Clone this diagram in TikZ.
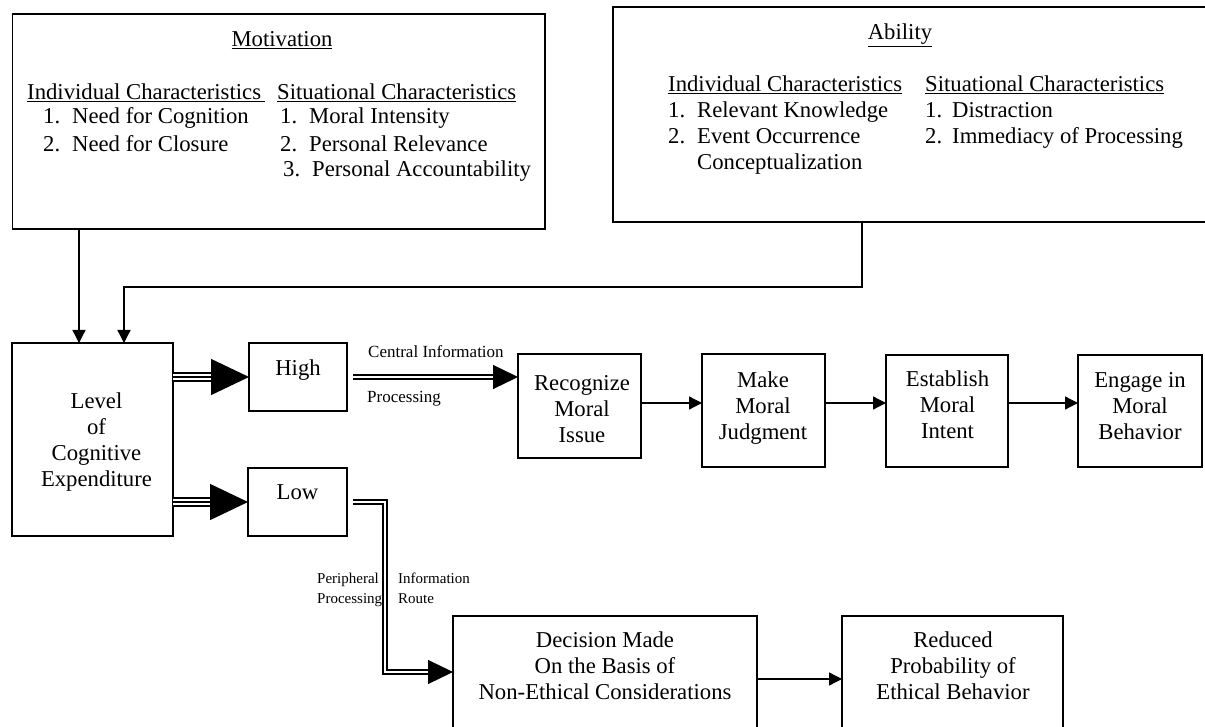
\documentclass[tikz,border=0pt]{standalone}
\usepackage{fontspec}
\setmainfont{Liberation Serif}
\usetikzlibrary{arrows.meta}
\newcommand{\mainsz}{\fontsize{22.7}{26}\selectfont}
\newcommand{\labsz}{\fontsize{17}{20}\selectfont}
\newcommand{\tinysz}{\fontsize{15}{20}\selectfont}
\newcommand{\itemnum}[1]{\makebox[29pt][l]{#1}}
\begin{document}
\begin{tikzpicture}[x=1pt,y=-1pt,
  box/.style={draw, line width=1.3pt, inner sep=0pt, outer sep=0pt},
  txt/.style={inner sep=0pt, align=center, font=\mainsz},
  lft/.style={inner sep=0pt, anchor=base west, font=\mainsz},
  lab/.style={inner sep=0pt, anchor=base west, font=\labsz},
  tlab/.style={inner sep=0pt, anchor=base west, font=\tinysz},
  arr/.style={line width=1.3pt, -{Triangle[length=13pt,width=13pt]}},
  dbltwo/.style={line width=1.2pt, double distance=2.8pt},
  dblthree/.style={line width=1.4pt, double distance=6.6pt},
  bigtip/.style={line width=1.4pt, -{Triangle[length=38pt,width=36pt]}},
  midtip/.style={line width=1.2pt, -{Triangle[length=25pt,width=24pt]}}
]
\fill[white] (0,0) rectangle (1205,727);
\useasboundingbox (0,0) rectangle (1205,727);

% boxes
\node[box, minimum width=532.5pt, minimum height=215pt] (mot) at (278.75,121.5) {};
\node[box, minimum width=607pt, minimum height=215pt] (abi) at (916.5,114.5) {};
\node[box, minimum width=161pt, minimum height=193pt] (lev) at (92.5,439.5) {};
\node[box, minimum width=98pt, minimum height=68pt] (high) at (298,377) {};
\node[box, minimum width=99pt, minimum height=68pt] (low) at (297.5,502) {};
\node[box, minimum width=123pt, minimum height=104pt] (rec) at (579.5,406) {};
\node[box, minimum width=123pt, minimum height=113pt] (mak) at (763.5,410.5) {};
\node[box, minimum width=122pt, minimum height=112pt] (est) at (947,411) {};
\node[box, minimum width=124pt, minimum height=112pt] (eng) at (1140,411) {};
\node[box, minimum width=304pt, minimum height=126pt] (dec) at (605,679) {};
\node[box, minimum width=221pt, minimum height=126pt] (red) at (952.5,679) {};

% Motivation texts
\node[txt, anchor=base] (motT) at (282,47) {\underline{Motivation}};
\node[lft] (m1) at (27,100) {\underline{Individual Characteristics\,}};
\node[lft] (m2) at (43,124) {\itemnum{1.}Need for Cognition};
\node[lft] (m3) at (43,152) {\itemnum{2.}Need for Closure};
\node[lft] (m4) at (277,100) {\underline{Situational Characteristics}};
\node[lft] (m5) at (280,124) {\itemnum{1.}Moral Intensity};
\node[lft] (m6) at (280,152) {\itemnum{2.}Personal Relevance};
\node[lft] (m7) at (283,177) {\itemnum{3.}Personal Accountability};

% Ability texts
\node[txt, anchor=base] (abT) at (900,40) {\underline{Ability}};
\node[lft] (a1) at (668,92) {\underline{Individual Characteristics}};
\node[lft] (a2) at (668,118) {\itemnum{1.}Relevant Knowledge};
\node[lft] (a3) at (668,144) {\itemnum{2.}Event Occurrence};
\node[lft] (a4) at (697,170) {Conceptualization};
\node[lft] (a5) at (925,92) {\underline{Situational Characteristics}};
\node[lft] (a6) at (925,118) {\makebox[27pt][l]{1.}Distraction};
\node[lft] (a7) at (925,144) {\makebox[27pt][l]{2.}Immediacy of Processing};

% box texts
\node[txt] (levT) at (96.5,442) {Level\\of\\Cognitive\\Expenditure};
\node[txt, anchor=base] (highT) at (298,375) {High};
\node[txt, anchor=base] (lowT) at (297.5,499) {Low};
\node[txt] (recT) at (582,409) {Recognize\\Moral\\Issue};
\node[txt] (makT) at (763,408) {Make\\Moral\\Judgment};
\node[txt] (estT) at (947.5,405) {Establish\\Moral\\Intent};
\node[txt] (engT) at (1140,406) {Engage in\\Moral\\Behavior};
\node[txt] (decT) at (605,666) {Decision Made\\On the Basis of\\Non-Ethical Considerations};
\node[txt] (redT) at (953,666) {Reduced\\Probability of\\Ethical Behavior};

% connector labels
\node[lab] (ci) at (368,357.5) {Central Information};
\node[lab] (cp) at (367,402) {Processing};
\node[tlab] (pp1) at (317,583) {Peripheral};
\node[tlab] (pp2) at (317,603) {Processing};
\node[tlab] (pr1) at (398,583) {Information};
\node[tlab] (pr2) at (398,603) {Route};

% coordinates
\coordinate (levm) at ([xshift=67pt]lev.north west);
\coordinate (leva) at ([xshift=112pt]lev.north west);
\coordinate (abo) at ([xshift=249pt]abi.south west);
\coordinate (recin) at (rec.west |- high.east);
\coordinate (decin) at ([yshift=7pt]dec.west);
\coordinate (lowc) at ([xshift=38pt]low.east);
\coordinate (r1) at ([yshift=3pt]rec.east);
\coordinate (r2) at ([yshift=7.5pt]mak.east);
\coordinate (r3) at ([yshift=8pt]est.east);

% motivation / ability arrows
\draw[arr] (levm |- mot.south) -- (levm);
\draw[arr] (abo) -- ++(0,65) -| (leva);

% triple arrows
\draw[dblthree, shorten >=36pt] (lev.east |- high.west) -- (high.west);
\draw[bigtip] (lev.east |- high.west) -- (high.west);
\draw[dblthree, shorten >=36pt] (lev.east |- low.west) -- (low.west);
\draw[bigtip] (lev.east |- low.west) -- (low.west);

% central route
\draw[dbltwo, shorten <=6pt, shorten >=24pt] (high.east) -- (recin);
\draw[midtip] ([xshift=-25pt]recin) -- (recin);

% peripheral route
\draw[dbltwo, shorten >=24pt] ([xshift=6pt]low.east) -| (lowc |- decin) -- (decin);
\draw[midtip] ([xshift=-25pt]decin) -- (decin);

% chain
\draw[arr] (r1) -- (r1 -| mak.west);
\draw[arr] (r2) -- (r2 -| est.west);
\draw[arr] (r3) -- (r3 -| eng.west);
\draw[arr] (dec.east) -- (red.west);
\end{tikzpicture}
\end{document}
